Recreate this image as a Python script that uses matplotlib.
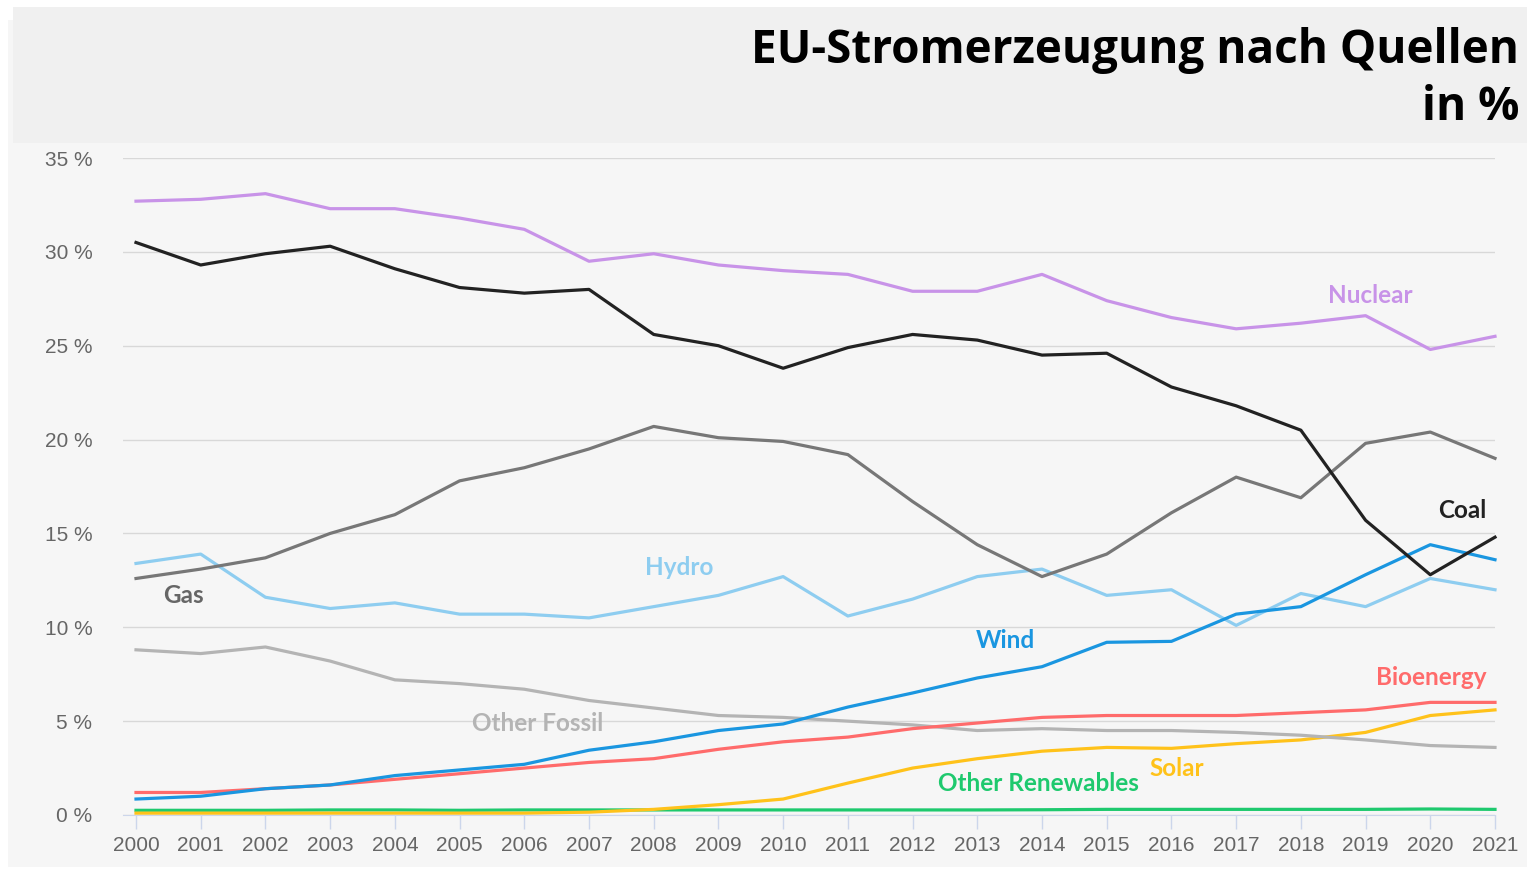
import matplotlib.pyplot as plt
from matplotlib.patches import Rectangle

years = list(range(2000, 2022))

nuclear = [32.7, 32.8, 33.1, 32.3, 32.3, 31.8, 31.2, 29.5, 29.9, 29.3, 29.0,
           28.8, 27.9, 27.9, 28.8, 27.4, 26.5, 25.9, 26.2, 26.6, 24.8, 25.5]
coal = [30.5, 29.3, 29.9, 30.3, 29.1, 28.1, 27.8, 28.0, 25.6, 25.0, 23.8,
        24.9, 25.6, 25.3, 24.5, 24.6, 22.8, 21.8, 20.5, 15.7, 12.8, 14.8]
gas = [12.6, 13.1, 13.7, 15.0, 16.0, 17.8, 18.5, 19.5, 20.7, 20.1, 19.9,
       19.2, 16.7, 14.4, 12.7, 13.9, 16.1, 18.0, 16.9, 19.8, 20.4, 19.0]
hydro = [13.4, 13.9, 11.6, 11.0, 11.3, 10.7, 10.7, 10.5, 11.1, 11.7, 12.7,
         10.6, 11.5, 12.7, 13.1, 11.7, 12.0, 10.1, 11.8, 11.1, 12.6, 12.0]
other_fossil = [8.8, 8.6, 8.95, 8.2, 7.2, 7.0, 6.7, 6.1, 5.7, 5.3, 5.2,
                5.0, 4.8, 4.5, 4.6, 4.5, 4.5, 4.4, 4.25, 4.0, 3.7, 3.6]
wind = [0.85, 1.0, 1.4, 1.6, 2.1, 2.4, 2.7, 3.45, 3.9, 4.5, 4.85,
        5.75, 6.5, 7.3, 7.9, 9.2, 9.25, 10.7, 11.1, 12.8, 14.4, 13.6]
bioenergy = [1.2, 1.2, 1.4, 1.6, 1.9, 2.2, 2.5, 2.8, 3.0, 3.5, 3.9,
             4.15, 4.6, 4.9, 5.2, 5.3, 5.3, 5.3, 5.45, 5.6, 6.0, 6.0]
solar = [0.1, 0.1, 0.1, 0.1, 0.1, 0.1, 0.1, 0.15, 0.3, 0.55, 0.85,
         1.7, 2.5, 3.0, 3.4, 3.6, 3.55, 3.8, 4.0, 4.4, 5.3, 5.6]
other_renew = [0.25, 0.25, 0.25, 0.27, 0.27, 0.25, 0.27, 0.27, 0.27, 0.27, 0.27,
               0.27, 0.27, 0.27, 0.28, 0.3, 0.3, 0.3, 0.3, 0.3, 0.32, 0.3]

series = [
    ("Other Renewables", other_renew, "#1ec96e"),
    ("Solar", solar, "#ffc21a"),
    ("Other Fossil", other_fossil, "#b4b4b4"),
    ("Bioenergy", bioenergy, "#ff6b6b"),
    ("Hydro", hydro, "#8ecdf0"),
    ("Wind", wind, "#1a96e0"),
    ("Gas", gas, "#777777"),
    ("Coal", coal, "#222222"),
    ("Nuclear", nuclear, "#c893e8"),
]

# where the series names sit (data coords)
label_pos = {
    "Nuclear": (2019.07, 27.7, "#c893e8"),
    "Coal": (2020.5, 16.2, "#222222"),
    "Gas": (2000.73, 11.67, "#666666"),
    "Hydro": (2008.39, 13.2, "#8ecdf0"),
    "Wind": (2013.44, 9.32, "#1a96e0"),
    "Bioenergy": (2020.01, 7.35, "#ff6b6b"),
    "Other Fossil": (2006.21, 4.85, "#b4b4b4"),
    "Solar": (2016.09, 2.5, "#ffc21a"),
    "Other Renewables": (2013.94, 1.7, "#1ec96e"),
}

W, H = 1527, 869
fig = plt.figure(figsize=(W / 100, H / 100), dpi=100)
fig.patch.set_facecolor("white")

# backgrounds
fig.patches.append(Rectangle((8 / W, 1 - 867 / H), (W - 8) / W, (867 - 20) / H,
                             transform=fig.transFigure, facecolor="#f6f6f6",
                             edgecolor="none", zorder=-10))
fig.patches.append(Rectangle((13 / W, 1 - 143 / H), (W - 13) / W, (143 - 7) / H,
                             transform=fig.transFigure, facecolor="#f0f0f0",
                             edgecolor="none", zorder=-9))

fig.text(1519 / W, 1 - 50 / H, "EU-Stromerzeugung nach Quellen", ha="right", va="center",
         fontsize=33, fontweight="bold", family="Open Sans", color="black")
fig.text(1519 / W, 1 - 108 / H, "in %", ha="right", va="center",
         fontsize=33, fontweight="bold", family="Open Sans", color="black")

ax = fig.add_axes([123 / W, 1 - 815 / H, (1495 - 123) / W, (815 - 158) / H])
ax.set_facecolor("none")
ax.set_xlim(2000 - 13 / 64.714, 2021)
ax.set_ylim(0, 35)

for name, vals, col in series:
    ax.plot(years, vals, color=col, lw=2.3, solid_joinstyle="round", clip_on=False)

for name, (lx, ly, col) in label_pos.items():
    ax.text(lx, ly, name, color=col, ha="center", va="center",
            fontsize=17.5, fontweight="bold", family="Lato")

ax.set_yticks(range(0, 36, 5))
ax.set_yticklabels([f"{v} %" for v in range(0, 36, 5)])
ax.set_xticks(years)
ax.set_xticklabels([str(y) for y in years])
ax.yaxis.grid(True, color="#d8d8d8", lw=1)
ax.set_axisbelow(True)
for s in ["top", "right", "left"]:
    ax.spines[s].set_visible(False)
ax.spines["bottom"].set_color("#ccd6eb")
ax.spines["bottom"].set_zorder(1)
ax.tick_params(axis="y", length=0, pad=22, labelsize=15, labelcolor="#666666")
ax.tick_params(axis="x", length=10, color="#ccd6eb", width=1, pad=5,
               labelsize=15, labelcolor="#666666")
for t in ax.get_yticklabels() + ax.get_xticklabels():
    t.set_family("Liberation Sans")

fig.savefig("out.png", dpi=100)
